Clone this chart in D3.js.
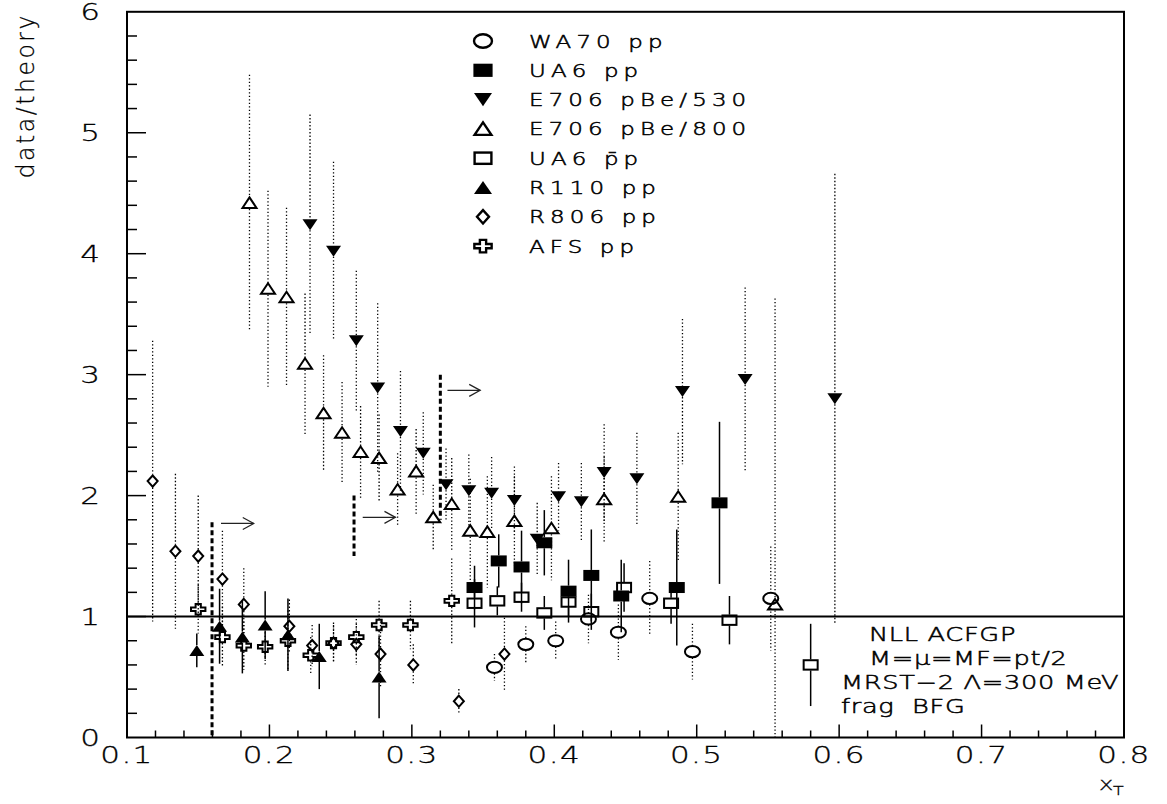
<!DOCTYPE html>
<html>
<head>
<meta charset="utf-8">
<script src="https://cdn.jsdelivr.net/npm/d3@7"></script>
<style>
html,body{margin:0;padding:0;background:#fff;}
svg{display:block;}
text{font-family:"DejaVu Sans","Liberation Sans",sans-serif;font-weight:200;fill:#000;white-space:pre;}
</style>
</head>
<body>
<svg id="chart" width="1167" height="804"></svg>
<script>
// ---------------- DATA ----------------
const xTickLabels = ["0.1","0.2","0.3","0.4","0.5","0.6","0.7","0.8"];
const yTickLabels = ["0","1","2","3","4","5","6"];

const wa70X  = [0.358,0.380,0.401,0.424,0.445,0.467,0.497,0.552];
const wa70Y  = [0.58,0.77,0.80,0.98,0.87,1.15,0.71,1.15];
const wa70E  = [0.11,0.15,0.16,0.20,0.23,0.31,0.23,0.43];

const ua6X   = [0.344,0.361,0.377,0.393,0.410,0.426,0.447,0.486,0.516];
const ua6Y   = [1.24,1.46,1.41,1.61,1.21,1.34,1.17,1.24,1.94];
const ua6E   = [0.18,0.22,0.30,0.27,0.26,0.38,0.30,0.48,0.67];

const e530X  = [0.2285,0.245,0.261,0.276,0.292,0.308,0.324,0.340,0.356,0.372,0.388,0.403,0.419,0.435,0.458,0.490,0.534,0.597];
const e530Y  = [4.24,4.02,3.28,2.89,2.53,2.35,2.09,2.04,2.02,1.96,1.64,1.99,1.95,2.19,2.14,2.86,2.96,2.80];
const e530E  = [0.91,0.74,0.58,0.70,0.50,0.34,0.30,0.30,0.30,0.28,0.30,0.28,0.32,0.40,0.38,0.60,0.76,1.86];

const e800X  = [0.186,0.199,0.212,0.225,0.238,0.251,0.264,0.277,0.290,0.303,0.315,0.328,0.341,0.353,0.372,0.398,0.435,0.487,0.555];
const e800Y  = [4.42,3.71,3.64,3.09,2.68,2.52,2.36,2.31,2.05,2.20,1.82,1.93,1.71,1.70,1.79,1.73,1.97,1.99,1.10];
const e800Lo = [1.06,0.81,0.74,0.58,0.48,0.42,0.38,0.36,0.30,0.35,0.27,0.38,0.43,0.46,0.37,0.43,0.35,0.53,1.10];
const e800Hi = [1.06,0.81,0.74,0.58,0.48,0.42,0.38,0.36,0.30,0.35,0.27,0.38,0.43,0.46,0.37,0.43,0.35,0.53,2.53];

const ua6barX = [0.344,0.360,0.377,0.393,0.410,0.426,0.449,0.482,0.523,0.580];
const ua6barY = [1.11,1.13,1.16,1.03,1.12,1.04,1.24,1.11,0.97,0.60];
const ua6barE = [0.20,0.12,0.12,0.14,0.12,0.15,0.20,0.17,0.20,0.34];

const r110X  = [0.149,0.165,0.181,0.197,0.213,0.235,0.277];
const r110Y  = [0.72,0.92,0.83,0.93,0.85,0.67,0.50];
const r110E  = [0.14,0.31,0.30,0.28,0.30,0.27,0.34];

const r806X  = [0.118,0.134,0.150,0.167,0.182,0.214,0.230,0.245,0.261,0.278,0.301,0.333,0.365];
const r806Y  = [2.12,1.54,1.50,1.31,1.10,0.92,0.76,0.78,0.77,0.69,0.60,0.30,0.69];
const r806E  = [1.16,0.64,0.50,0.40,0.30,0.22,0.17,0.17,0.17,0.27,0.17,0.10,0.30];

const afsX   = [0.150,0.167,0.182,0.197,0.213,0.229,0.245,0.261,0.277,0.299,0.328];
const afsY   = [1.06,0.83,0.76,0.75,0.80,0.68,0.78,0.83,0.93,0.93,1.13];
const afsE   = [0.20,0.25,0.20,0.15,0.25,0.15,0.15,0.15,0.20,0.20,0.35];

const legendLabels = ["WA70 pp","UA6 pp","E706 pBe/530","E706 pBe/800","UA6 p\u0304p","R110 pp","R806 pp","AFS pp"];

const cutX  = [0.1597,0.2594,0.3200];
const cutLo = [0.0,1.50,1.80];
const cutHi = [1.78,2.00,3.00];

const arrowX0 = [0.166,0.2655,0.325];
const arrowX1 = [0.189,0.2885,0.348];
const arrowY  = [1.77,1.82,2.87];

const noteLines = ["NLL ACFGP","M=\u03bc=MF=pt/2","MRST\u22122 \u039b=300 MeV","frag  BFG"];

// ---------------- SETUP ----------------
const SX = 1.35;
const svg = d3.select("#chart");
svg.append("rect").attr("width",1167).attr("height",804).attr("fill","#fff");

const x = d3.scaleLinear().domain([0.1,0.8]).range([127,1124]);
const y = d3.scaleLinear().domain([0,6]).range([737.5,11.8]);

function wtext(g, px, py, str, size, anchor, ls, sw){
  const t = g.append("text")
    .attr("transform", `translate(${px},${py}) scale(${SX},1)`)
    .attr("font-size", size)
    .attr("text-anchor", anchor || "start")
    .attr("xml:space","preserve")
    .text(str);
  if (ls) t.attr("letter-spacing", ls);
  if (sw) t.attr("stroke","#000").attr("stroke-width",sw);
  return t;
}

const markerHalf = {circle:6, squareF:5.5, triDownF:5.5, triUpO:6, squareO:5.5, triUpF:5.5, diamondO:6.5, crossO:6};

function drawMarker(g, type, cx, cy, k){
  k = k || 1;
  const gg = g.append("g").attr("transform", `translate(${cx},${cy}) scale(${k})`);
  const sw = 2;
  switch(type){
    case "circle":
      gg.append("ellipse").attr("rx",7.5).attr("ry",5.6).attr("fill","none").attr("stroke","#000").attr("stroke-width",sw); break;
    case "squareF":
      gg.append("rect").attr("x",-8).attr("y",-5.5).attr("width",16).attr("height",11).attr("fill","#000"); break;
    case "squareO":
      gg.append("rect").attr("x",-7).attr("y",-4.7).attr("width",14).attr("height",9.4).attr("fill","none").attr("stroke","#000").attr("stroke-width",sw); break;
    case "triDownF":
      gg.append("path").attr("d","M-7.5,-5.5L7.5,-5.5L0,5.5Z").attr("fill","#000"); break;
    case "triUpF":
      gg.append("path").attr("d","M-7.5,5.5L7.5,5.5L0,-5.5Z").attr("fill","#000"); break;
    case "triUpO":
      gg.append("path").attr("d","M-7,5L7,5L0,-5.5Z").attr("fill","none").attr("stroke","#000").attr("stroke-width",sw).attr("stroke-linejoin","miter"); break;
    case "diamondO":
      gg.append("path").attr("d","M0,-5.6L5,0L0,5.6L-5,0Z").attr("fill","none").attr("stroke","#000").attr("stroke-width",sw); break;
    case "crossO": {
      const W=7.2,H=5.2,a=2.6,b=1.8;
      gg.append("path").attr("d",`M${-a},${-H}L${a},${-H}L${a},${-b}L${W},${-b}L${W},${b}L${a},${b}L${a},${H}L${-a},${H}L${-a},${b}L${-W},${b}L${-W},${-b}L${-a},${-b}Z`)
        .attr("fill","none").attr("stroke","#000").attr("stroke-width",sw); break;
    }
  }
}

const series = [
  {xs:wa70X,  ys:wa70Y,  lo:wa70E,  hi:wa70E,  m:"circle",   bar:"dot"},
  {xs:ua6X,   ys:ua6Y,   lo:ua6E,   hi:ua6E,   m:"squareF",  bar:"solid"},
  {xs:e530X,  ys:e530Y,  lo:e530E,  hi:e530E,  m:"triDownF", bar:"dot"},
  {xs:e800X,  ys:e800Y,  lo:e800Lo, hi:e800Hi, m:"triUpO",   bar:"dot"},
  {xs:ua6barX,ys:ua6barY,lo:ua6barE,hi:ua6barE,m:"squareO",  bar:"solid"},
  {xs:r110X,  ys:r110Y,  lo:r110E,  hi:r110E,  m:"triUpF",   bar:"solid"},
  {xs:r806X,  ys:r806Y,  lo:r806E,  hi:r806E,  m:"diamondO", bar:"dot"},
  {xs:afsX,   ys:afsY,   lo:afsE,   hi:afsE,   m:"crossO",   bar:"dot"}
];

// ---------------- ERROR BARS ----------------
const gBars = svg.append("g");
series.forEach(s=>{
  const h = markerHalf[s.m];
  s.xs.forEach((xv,i)=>{
    const px = x(xv), py = y(s.ys[i]);
    const yTop = y(s.ys[i]+s.hi[i]), yBot = Math.min(y(Math.max(0,s.ys[i]-s.lo[i])), y(0));
    [[yTop, py-h],[py+h, yBot]].forEach(([a,b])=>{
      if (b-a <= 0.5) return;
      const l = gBars.append("line").attr("x1",px).attr("x2",px).attr("y1",a).attr("y2",b).attr("stroke","#000");
      if (s.bar==="dot") l.attr("stroke-width",1.3).attr("stroke-dasharray","1.3,2.2");
      else l.attr("stroke-width",1.5);
    });
  });
});

// ---------------- REFERENCE LINE y=1 ----------------
svg.append("line").attr("x1",x(0.1)).attr("x2",x(0.8)).attr("y1",y(1)).attr("y2",y(1))
  .attr("stroke","#000").attr("stroke-width",2);

// ---------------- CUT LINES & ARROWS ----------------
cutX.forEach((cx,i)=>{
  svg.append("line").attr("x1",x(cx)).attr("x2",x(cx)).attr("y1",y(cutHi[i])).attr("y2",y(cutLo[i]))
    .attr("stroke","#000").attr("stroke-width",3).attr("stroke-dasharray","5,3");
});
arrowX0.forEach((ax,i)=>{
  const x0=x(ax), x1=x(arrowX1[i]), yy=y(arrowY[i]);
  const g = svg.append("g").attr("stroke","#222").attr("stroke-width",1.2).attr("fill","none");
  g.append("line").attr("x1",x0).attr("x2",x1).attr("y1",yy).attr("y2",yy);
  g.append("path").attr("d",`M${x1-11},${yy-6}L${x1},${yy}L${x1-11},${yy+6}`);
});

// ---------------- MARKERS ----------------
const gMarks = svg.append("g");
series.forEach(s=>{
  s.xs.forEach((xv,i)=> drawMarker(gMarks, s.m, x(xv), y(s.ys[i]), 1));
});

// ---------------- FRAME & TICKS ----------------
const frame = svg.append("g").attr("stroke","#000").attr("fill","none");
frame.append("rect").attr("x",x(0.1)).attr("y",y(6)).attr("width",x(0.8)-x(0.1)).attr("height",y(0)-y(6)).attr("stroke-width",2);

d3.range(1,36).forEach(i=>{
  const v = 0.1+i*0.02;
  if (v>0.8+1e-9) return;
  const major = i%5===0;
  frame.append("line").attr("x1",x(v)).attr("x2",x(v)).attr("y1",y(0)).attr("y2",y(0)-(major?13:7)).attr("stroke-width",1.5);
});
d3.range(1,30).forEach(i=>{
  const v = i*0.2;
  const major = i%5===0;
  frame.append("line").attr("x1",x(0.1)).attr("x2",x(0.1)+(major?19:10)).attr("y1",y(v)).attr("y2",y(v)).attr("stroke-width",1.5);
});

// tick labels
const gT = svg.append("g");
xTickLabels.forEach((lab,i)=>{
  wtext(gT, x(0.1+i*0.1), 763, lab, 23, "middle", 1, 0.3);
});
yTickLabels.forEach((lab,i)=>{
  wtext(gT, 100, y(i)+8.5, lab, 23, "end", 0, 0.3);
});

// axis titles
svg.append("text").attr("transform","translate(34,13) rotate(-90) scale(1.3,1.35)")
  .attr("font-size",18).attr("text-anchor","end").attr("letter-spacing",2)
  .attr("stroke","#000").attr("stroke-width",0.2).text("data/theory");
wtext(svg, 1099, 790, "x", 18, "start", 0, 0.3);
wtext(svg, 1113, 795, "T", 13, "start", 0, 0.3);

// ---------------- LEGEND ----------------
const legendMarkers = ["circle","squareF","triDownF","triUpO","squareO","triUpF","diamondO","crossO"];
const gL = svg.append("g");
legendLabels.forEach((lab,i)=>{
  const cy = 41 + i*29.3;
  drawMarker(gL, legendMarkers[i], 483, cy, 1.2);
  wtext(gL, 529, cy+6.5, lab, 17, "start", 3.8, 0.5);
});

// ---------------- NOTE ----------------
const noteX = [869,869,841,841];
const noteY = [641,665,689,713];
noteLines.forEach((ln,i)=> wtext(svg, noteX[i], noteY[i], ln, 19, "start", 0.5, 0.5));
</script>
</body>
</html>
